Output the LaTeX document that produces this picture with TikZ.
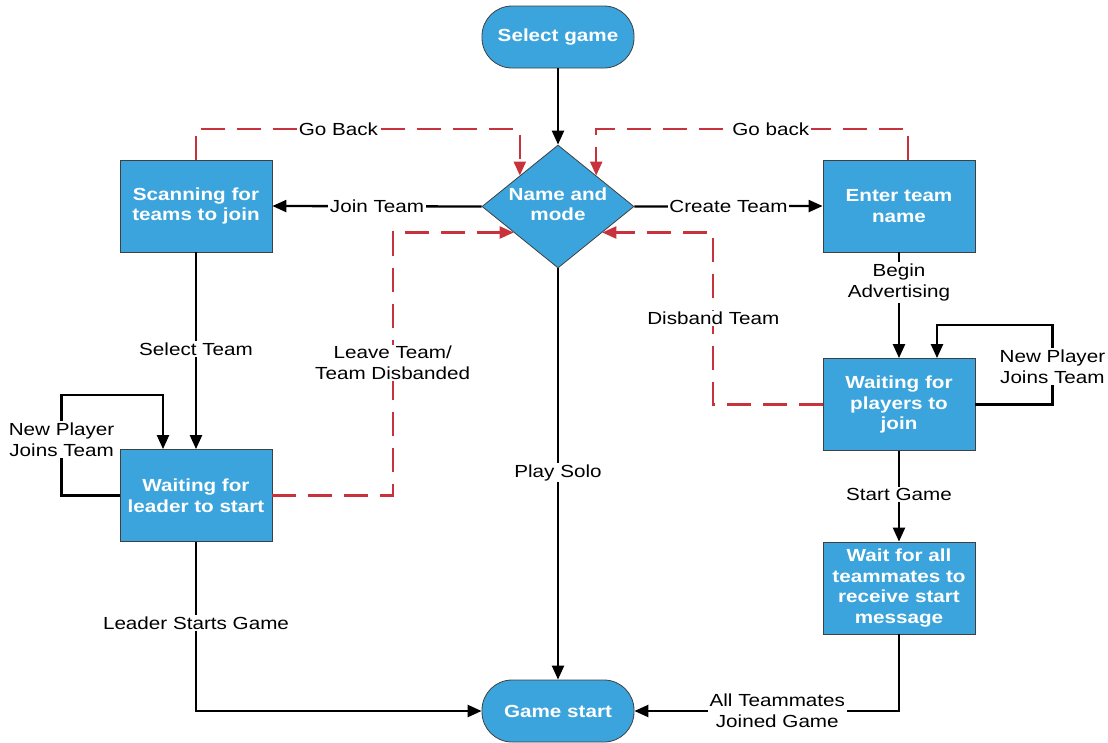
\documentclass[tikz,border=0pt]{standalone}
\usepackage{fontspec}
\setmainfont{Liberation Sans}[FakeStretch=1.18]
\usetikzlibrary{arrows.meta,shapes.geometric,calc}
\definecolor{boxblue}{RGB}{59,164,220}
\definecolor{backred}{RGB}{200,50,60}
\begin{document}
\begin{tikzpicture}[x=1pt,y=-1pt,
  box/.style={rectangle, draw=black!75, line width=0.8pt, fill=boxblue, minimum width=152pt, minimum height=92pt, inner sep=0pt, text=white, align=center, font=\bfseries\fontsize{17.5}{20.5}\selectfont},
  term/.style={box, rounded corners=30pt, minimum height=62pt},
  dia/.style={diamond, draw=black!75, line width=0.8pt, fill=boxblue, minimum width=152pt, minimum height=123pt, inner sep=0pt},
  txt/.style={text=white, align=center, inner sep=0pt, font=\bfseries\fontsize{17.5}{20.5}\selectfont},
  flow/.style={line width=2.3pt, -{Triangle[length=14pt,width=12pt]}},
  back/.style={draw=backred, line width=2.3pt, dash pattern=on 24pt off 12pt, -{Triangle[length=14pt,width=12pt]}},
  lbl/.style={fill=white, inner sep=1.5pt, align=center, text=black, font=\fontsize{17.5}{21}\selectfont}
]
\useasboundingbox (0,0) rectangle (1108,742);

% nodes
\node[term] (sg) at (558,37) {Select game};
\node[dia] (nm) at (558,206.5) {};
\node[txt] (nmtext) at ($(nm)+(0,-2.5)$) {Name and\\mode};
\node[box] (sc) at (196,206) {Scanning for\\teams to join};
\node[box] (en) at (899,206) {Enter team\\name};
\node[box] (wl) at (196,495.5) {Waiting for\\leader to start};
\node[box] (wp) at (899,404.5) {Waiting for\\players to\\join};
\node[box] (wa) at (899,588) {Wait for all\\teammates to\\receive start\\message};
\node[term] (gs) at (558,711) {Game start};

\coordinate (nmL) at ($(nm.west)!0.42!(nm.south)$);
\coordinate (nmR) at ($(nm.east)!0.42!(nm.south)$);

% main flow
\draw[flow] (sg.south) -- (nm.north);
\draw[flow] (nm.west) -- node[lbl]{Join Team} (sc.east);
\draw[flow] (nm.east) -- node[lbl]{Create Team} (en.west);
\draw[flow] (nm.south) -- node[lbl,pos=0.497]{Play Solo} (gs.north);
\draw[flow] (sc.south) -- node[lbl,pos=0.49]{Select Team} (wl.north);
\draw[flow] (en.south) -- node[lbl,pos=0.285]{Begin\\Advertising} (wp.north);
\draw[flow] (wp.south) -- node[lbl,pos=0.48]{Start Game} (wa.north);
\draw[flow] (wl.south) |- node[lbl,pos=0.24]{Leader Starts Game} (gs.west);
\draw[flow] (wa.south) |- node[lbl,pos=0.73]{All Teammates\\Joined Game} (gs.east);

% self loops
\draw[flow] (wl.west) -- ($(wl.west)+(-58,0)$) |- node[lbl,pos=0.28]{New Player\\Joins Team} ($(wl.north)+(-33,-54)$) -- ($(wl.north)+(-33,0)$);
\draw[flow] (wp.east) -- ($(wp.east)+(77,0)$) |- node[lbl,pos=0.24]{New Player\\Joins Team} ($(wp.north)+(38,-33)$) -- ($(wp.north)+(38,0)$);

% back links
\draw[back] (sc.north) |- node[lbl,pos=0.72]{Go Back} ($(nm.north west)+(0,-46.5)$) -- (nm.north west);
\draw[back] ($(en.north)+(9,0)$) |- node[lbl,pos=0.72]{Go back} ($(nm.north east)+(0,-46.5)$) -- (nm.north east);
\draw[back] (wl.east) -| node[lbl,pos=0.752]{Leave Team/\\Team Disbanded} ($(nmL)+(-121,0)$) -- (nmL);
\draw[back] (wp.west) -| node[lbl,pos=0.75]{Disband Team} ($(nmR)+(111,0)$) -- (nmR);
\end{tikzpicture}
\end{document}
